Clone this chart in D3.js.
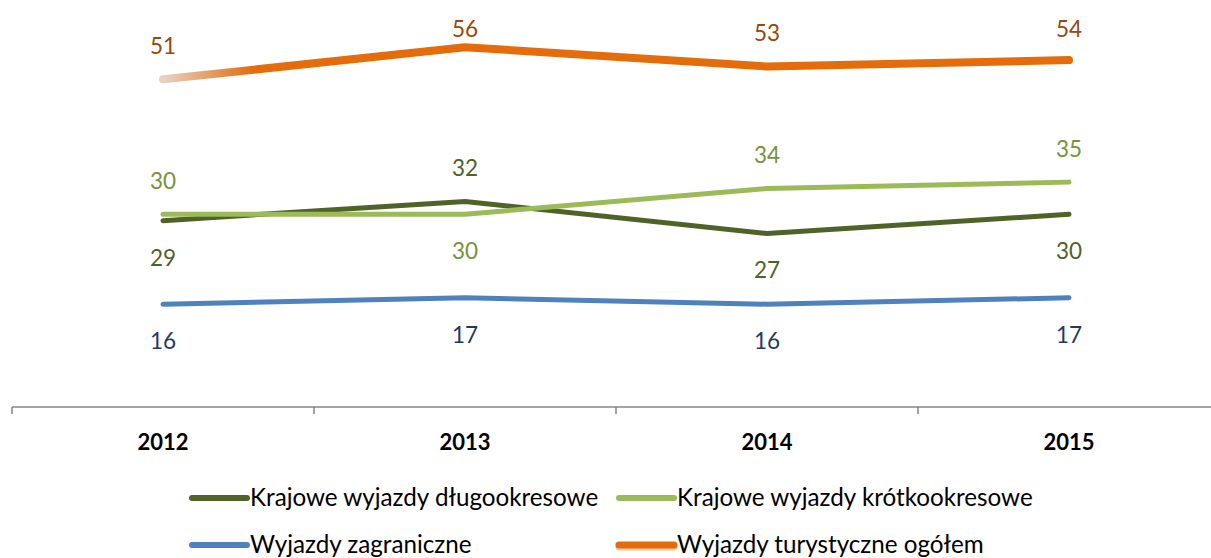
<!DOCTYPE html>
<html><head><meta charset="utf-8">
<script src="https://cdn.jsdelivr.net/npm/d3@7"></script>
<style>body{margin:0;background:#fff}svg{display:block}text{font-family:Lato,"Open Sans",sans-serif}</style>
</head><body>
<svg id="c" width="1211" height="558"></svg>
<script>
const years = ["2012","2013","2014","2015"];
const seriesNames = ["Krajowe wyjazdy długookresowe","Krajowe wyjazdy krótkookresowe","Wyjazdy zagraniczne","Wyjazdy turystyczne ogółem"];
const dlugo = [29,32,27,30];
const krotko = [30,30,34,35];
const zagr = [16,17,16,17];
const ogolem = [51,56,53,54];
// label side per point: -1 above, +1 below
const sideDlugo = [1,-1,1,1];
const sideKrotko = [-1,1,-1,-1];
const sideZagr = [1,1,1,1];
const sideOgolem = [-1,-1,-1,-1];

const series = [
  {name:seriesNames[0], values:dlugo, side:sideDlugo, color:"#4F6228", label:"#4F6228", w:5},
  {name:seriesNames[1], values:krotko, side:sideKrotko, color:"#9BBB59", label:"#77933C", w:5},
  {name:seriesNames[2], values:zagr, side:sideZagr, color:"#4F81BD", label:"#1F3864", w:5},
  {name:seriesNames[3], values:ogolem, side:sideOgolem, color:"#E46C0A", label:"#984807", w:8, grad:true}
];

const svg = d3.select("#c");
const x = d3.scaleBand().domain(years).range([12, 1220]);
const y = d3.scaleLinear().domain([0,60]).range([407, 21.5]);

const defs = svg.append("defs");
const g = defs.append("linearGradient").attr("id","og").attr("gradientUnits","userSpaceOnUse")
  .attr("x1", x("2012")+x.bandwidth()/2).attr("x2", x("2012")+x.bandwidth()/2+90).attr("y1",0).attr("y2",0);
g.append("stop").attr("offset",0).attr("stop-color","#E6D2C4");
g.append("stop").attr("offset",1).attr("stop-color","#E46C0A");

// axis
const axis = d3.axisBottom(x).tickSize(0).tickFormat("");
const ax = svg.append("g").attr("transform","translate(0,407)").call(axis);
ax.select(".domain").attr("stroke","#868686").attr("stroke-width",1.5).attr("d","M12,0H1220");
const tickPos = years.map(d=>x(d)).concat([x.range()[1]]);
ax.selectAll(".vt").data(tickPos).join("line").attr("x1",d=>d).attr("x2",d=>d).attr("y1",0).attr("y2",7)
  .attr("stroke","#868686").attr("stroke-width",1.5);
svg.append("g").selectAll("text").data(years).join("text")
  .attr("x",d=>x(d)+x.bandwidth()/2).attr("y",450).attr("text-anchor","middle")
  .attr("font-size",22).attr("font-weight","bold").attr("fill","#000").text(d=>d);

const cx = d => x(d)+x.bandwidth()/2;
const line = d3.line().x((v,i)=>cx(years[i])).y(v=>y(v));

series.forEach(s=>{
  svg.append("path").attr("d", line(s.values)).attr("fill","none")
    .attr("stroke", s.grad ? "url(#og)" : s.color).attr("stroke-width", s.w)
    .attr("stroke-linecap","round").attr("stroke-linejoin","round");
});
series.forEach(s=>{
  svg.append("g").selectAll("text").data(s.values).join("text")
    .attr("x",(v,i)=>cx(years[i]))
    .attr("y",(v,i)=>{ let yy = y(v) + (s.side[i]<0 ? -33 : 37); if (yy<29) yy=29; return yy; })
    .attr("dy","0.35em").attr("text-anchor","middle").attr("font-size",22.5)
    .attr("fill", s.label).text(v=>v);
});

// legend
const legX = [192, 619], legY = [498, 545];
series.forEach((s,i)=>{
  const lx = legX[i%2], ly = legY[Math.floor(i/2)];
  const gg = svg.append("g");
  if (s.grad) gg.append("line").attr("x1",lx).attr("x2",lx+55).attr("y1",ly+2).attr("y2",ly+2)
      .attr("stroke","#F2C8A8").attr("stroke-width",7).attr("stroke-linecap","round");
  gg.append("line").attr("x1",lx).attr("x2",lx+55).attr("y1",ly).attr("y2",ly)
    .attr("stroke",s.color).attr("stroke-width", s.grad?7:6).attr("stroke-linecap","round");
  gg.append("text").attr("x",lx+58).attr("y",ly).attr("dy","0.35em").attr("font-size",24.2)
    .attr("fill","#000").text(s.name);
});
</script>
</body></html>
